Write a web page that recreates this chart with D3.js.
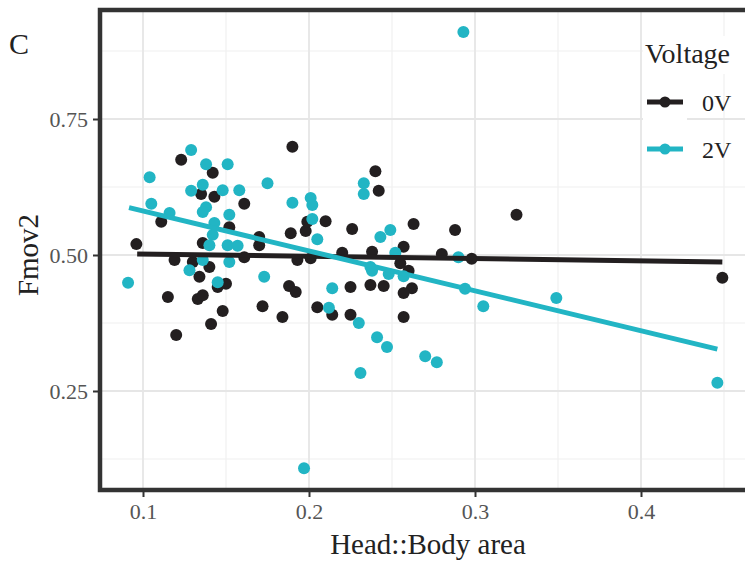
<!DOCTYPE html>
<html><head><meta charset="utf-8">
<script src="https://cdn.jsdelivr.net/npm/d3@7"></script>
<style>html,body{margin:0;padding:0;background:#fff;}svg{display:block;}</style>
</head><body>
<svg id="chart" width="745" height="562"></svg>
<script>
const xTicks = [0.1, 0.2, 0.3, 0.4];
const xMinor = [0.15, 0.25, 0.35, 0.45];
const yTicks = [0.25, 0.50, 0.75];
const yMinor = [0.125, 0.375, 0.625, 0.875];
const yTickLabels = ["0.25", "0.50", "0.75"];
const groups = ["0V", "2V"];
const colors = ["#231f20", "#22b5c4"];

const v0x = [0.096,0.111,0.119,0.130,0.140,0.134,0.115,0.133,0.136,0.145,0.150,0.148,0.141,0.120,0.123,0.142,0.135,0.143,0.136,0.161,0.152,0.170,0.170,0.161,0.189,0.198,0.193,0.201,0.188,0.192,0.172,0.184,0.205,0.214,0.225,0.225,0.237,0.245,0.220,0.238,0.257,0.255,0.260,0.262,0.257,0.257,0.263,0.226,0.210,0.199,0.240,0.242,0.190,0.288,0.280,0.298,0.325,0.449];
const v0y = [0.520,0.561,0.491,0.487,0.478,0.460,0.423,0.419,0.426,0.441,0.447,0.397,0.373,0.353,0.675,0.651,0.612,0.607,0.522,0.594,0.551,0.533,0.518,0.496,0.540,0.544,0.491,0.494,0.443,0.432,0.406,0.386,0.404,0.390,0.390,0.441,0.445,0.443,0.504,0.506,0.515,0.485,0.471,0.439,0.430,0.386,0.557,0.548,0.562,0.561,0.654,0.618,0.699,0.546,0.502,0.493,0.574,0.458];

const v2x = [0.091,0.104,0.105,0.116,0.129,0.138,0.151,0.136,0.129,0.148,0.158,0.175,0.138,0.136,0.152,0.143,0.142,0.140,0.151,0.157,0.152,0.136,0.128,0.145,0.173,0.190,0.201,0.202,0.202,0.205,0.233,0.233,0.243,0.249,0.252,0.237,0.238,0.248,0.257,0.214,0.212,0.230,0.241,0.247,0.231,0.197,0.290,0.294,0.305,0.349,0.270,0.277,0.293,0.446];
const v2y = [0.449,0.643,0.594,0.577,0.693,0.667,0.667,0.629,0.618,0.619,0.619,0.632,0.588,0.579,0.574,0.559,0.537,0.518,0.518,0.517,0.487,0.491,0.472,0.450,0.460,0.596,0.605,0.592,0.566,0.529,0.632,0.612,0.533,0.546,0.504,0.478,0.471,0.465,0.461,0.439,0.403,0.375,0.349,0.331,0.283,0.108,0.496,0.438,0.406,0.421,0.314,0.303,0.910,0.265];

// fitted regression lines (data units: x, y at endpoints)
const fit0x = [0.0965, 0.449];
const fit0y = [0.502, 0.487];
const fit2x = [0.0916, 0.446];
const fit2y = [0.587, 0.327];

const svg = d3.select("#chart");
const panel = {left: 100, top: 10, right: 765, bottom: 490};
const x = d3.scaleLinear().domain([0.1, 0.4]).range([143, 641]);
const y = d3.scaleLinear().domain([0.25, 0.75]).range([391, 119]);
const serif = "'Liberation Serif', 'DejaVu Serif', serif";

// gridlines
const g = svg.append("g");
g.selectAll(".xmin").data(xMinor).join("line")
  .attr("x1", d => x(d)).attr("x2", d => x(d)).attr("y1", panel.top).attr("y2", panel.bottom)
  .attr("stroke", "#f0f0f0").attr("stroke-width", 1.2);
g.selectAll(".ymin").data(yMinor).join("line")
  .attr("y1", d => y(d)).attr("y2", d => y(d)).attr("x1", panel.left).attr("x2", panel.right)
  .attr("stroke", "#f0f0f0").attr("stroke-width", 1.2);
g.selectAll(".xmaj").data(xTicks).join("line")
  .attr("x1", d => x(d)).attr("x2", d => x(d)).attr("y1", panel.top).attr("y2", panel.bottom)
  .attr("stroke", "#e6e6e6").attr("stroke-width", 1.8);
g.selectAll(".ymaj").data(yTicks).join("line")
  .attr("y1", d => y(d)).attr("y2", d => y(d)).attr("x1", panel.left).attr("x2", panel.right)
  .attr("stroke", "#e6e6e6").attr("stroke-width", 1.8);

// points
const pts0 = v0x.map((d, i) => ({x: d, y: v0y[i]}));
const pts2 = v2x.map((d, i) => ({x: d, y: v2y[i]}));
svg.append("g").selectAll("circle").data(pts0).join("circle")
  .attr("cx", d => x(d.x)).attr("cy", d => y(d.y)).attr("r", 6).attr("fill", colors[0]);
svg.append("g").selectAll("circle").data(pts2).join("circle")
  .attr("cx", d => x(d.x)).attr("cy", d => y(d.y)).attr("r", 6).attr("fill", colors[1]);

// fit lines
const line = d3.line().x(d => x(d[0])).y(d => y(d[1]));
svg.append("path").attr("d", line(fit0x.map((d, i) => [d, fit0y[i]])))
  .attr("stroke", colors[0]).attr("stroke-width", 5).attr("fill", "none");
svg.append("path").attr("d", line(fit2x.map((d, i) => [d, fit2y[i]])))
  .attr("stroke", colors[1]).attr("stroke-width", 5).attr("fill", "none");

// legend
const lg = svg.append("g");
lg.append("rect").attr("x", 643).attr("y", 36).attr("width", 110).attr("height", 38).attr("fill", "#fff");
lg.append("text").attr("x", 645).attr("y", 63).text("Voltage")
  .attr("font-family", serif).attr("font-size", 28).attr("fill", "#222");
groups.forEach((gname, i) => {
  const cy = 102 + i * 47;
  lg.append("rect").attr("x", 643).attr("y", cy - 20).attr("width", 44).attr("height", 40).attr("fill", "#fff");
  lg.append("line").attr("x1", 647).attr("x2", 683).attr("y1", cy).attr("y2", cy)
    .attr("stroke", colors[i]).attr("stroke-width", 5);
  lg.append("circle").attr("cx", 665).attr("cy", cy).attr("r", 5.5).attr("fill", colors[i]);
  lg.append("text").attr("x", 702).attr("y", cy + 9).text(gname)
    .attr("font-family", serif).attr("font-size", 24).attr("fill", "#222");
});

// panel border (left, top, bottom)
svg.append("path")
  .attr("d", `M${panel.right},${panel.top}H${panel.left}V${panel.bottom}H${panel.right}`)
  .attr("stroke", "#333").attr("stroke-width", 4.5).attr("fill", "none");

// axes
const xAxis = svg.append("g").attr("transform", `translate(0,${panel.bottom + 2})`)
  .call(d3.axisBottom(x).tickValues(xTicks).tickFormat(d3.format(".1f")).tickSize(5).tickPadding(6));
const yAxis = svg.append("g").attr("transform", `translate(${panel.left - 2},0)`)
  .call(d3.axisLeft(y).tickValues(yTicks).tickFormat((d, i) => yTickLabels[i]).tickSize(5).tickPadding(5));
[xAxis, yAxis].forEach(a => {
  a.select(".domain").remove();
  a.selectAll(".tick line").attr("stroke", "#333").attr("stroke-width", 2);
  a.selectAll(".tick text").attr("font-family", serif).attr("font-size", 22).attr("fill", "#555");
});

// titles
svg.append("text").attr("x", 428).attr("y", 554).attr("text-anchor", "middle")
  .text("Head::Body area").attr("font-family", serif).attr("font-size", 29).attr("fill", "#222");
svg.append("text").attr("transform", "translate(38,255) rotate(-90)").attr("text-anchor", "middle")
  .text("Fmov2").attr("font-family", serif).attr("font-size", 29).attr("fill", "#222");
svg.append("text").attr("x", 9).attr("y", 54).text("C")
  .attr("font-family", serif).attr("font-size", 30).attr("fill", "#222");
</script>
</body></html>
